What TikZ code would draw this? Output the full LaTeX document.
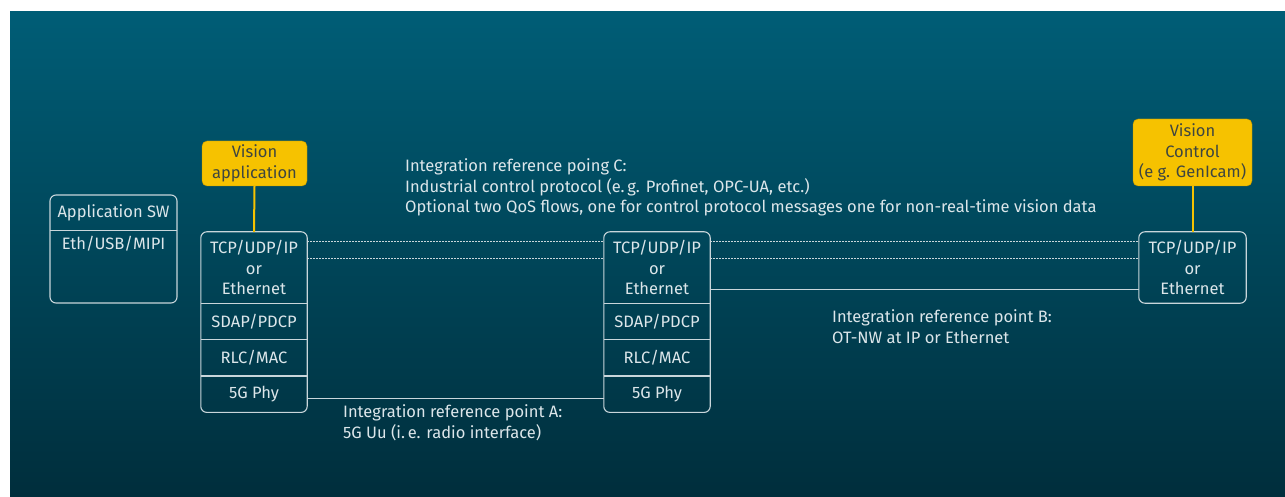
\documentclass[tikz,border=0pt]{standalone}
\usepackage{fontspec}
\setmainfont{Fira Sans}
\usetikzlibrary{positioning, fit, backgrounds}

\definecolor{bgtop}{HTML}{005D76}
\definecolor{bgbot}{HTML}{002E3C}
\definecolor{txt}{HTML}{DCE6EA}
\definecolor{frm}{HTML}{C9D6DB}
\definecolor{ylw}{HTML}{F6C200}
\definecolor{ytxt}{HTML}{3E4640}

\begin{document}
\begin{tikzpicture}[x=1pt, y=-1pt,
  txtfont/.style={font=\fontsize{16.5}{20.5}\selectfont},
  layer/.style={minimum width=106pt, minimum height=36pt, inner sep=0pt,
                text=txt, txtfont, align=center},
  toplayer/.style={layer, minimum height=71pt},
  frame/.style={draw=frm, line width=1.1pt, rounded corners=6pt, inner sep=0pt},
  divider/.style={frm, line width=1.1pt},
  app/.style={draw=ylw!75!black, fill=ylw, rounded corners=5pt, inner sep=0pt,
              text=ytxt, txtfont, align=center},
  link/.style={frm, line width=1.2pt},
  dots/.style={frm, line width=1pt, dash pattern=on 1.5pt off 1.5pt},
  yl/.style={ylw, line width=2pt},
  note/.style={text=txt, txtfont, align=left, anchor=base west, inner sep=0pt}
]
\useasboundingbox (0,0) rectangle (1285,497);
\fill[top color=bgtop, bottom color=bgbot] (10,12) rectangle (1285,497);

%% Application SW box
\node[frame, minimum width=127pt, minimum height=108pt] (appsw) at (113.5,249) {};
\node[layer, minimum width=127pt, minimum height=36pt, below=0pt of appsw.north] (asw) {Application SW};
\node[layer, minimum width=127pt, minimum height=26pt, below=0pt of asw] (eth) {Eth/USB/MIPI};
\draw[divider] (asw.south west) -- (asw.south east);

%% Left stack
\node[toplayer] (lip) at (254,267.5) {TCP/UDP/IP\\or\\Ethernet};
\node[layer, below=0pt of lip] (lsd) {SDAP/PDCP};
\node[layer, below=0pt of lsd] (lrl) {RLC/MAC};
\node[layer, below=0pt of lrl] (lph) {5G Phy};
\node[frame, fit=(lip)(lph)] (lstack) {};
\draw[divider] (lip.south west) -- (lip.south east);
\draw[divider] (lsd.south west) -- (lsd.south east);
\draw[divider] (lrl.south west) -- (lrl.south east);

%% Middle stack
\node[toplayer] (mip) at (657,267.5) {TCP/UDP/IP\\or\\Ethernet};
\node[layer, below=0pt of mip] (msd) {SDAP/PDCP};
\node[layer, below=0pt of msd] (mrl) {RLC/MAC};
\node[layer, below=0pt of mrl] (mph) {5G Phy};
\node[frame, fit=(mip)(mph)] (mstack) {};
\draw[divider] (mip.south west) -- (mip.south east);
\draw[divider] (msd.south west) -- (msd.south east);
\draw[divider] (mrl.south west) -- (mrl.south east);

%% Right stack
\node[toplayer, minimum width=107pt] (rip) at (1192.5,267.5) {TCP/UDP/IP\\or\\Ethernet};
\node[frame, fit=(rip)] (rstack) {};

%% Applications
\node[app, minimum width=105pt, minimum height=45pt] (vapp) at (254.5,163.5) {Vision\\application};
\node[app, minimum width=119pt, minimum height=67pt] (vctl) at (1192.5,152.5) {Vision\\Control\\(e g. GenIcam)};
\draw[yl] (vapp.south) -- (lip.north);
\draw[yl] (vctl.south) -- (rip.north);

%% Connectors
\draw[dots] ([yshift=-10pt]lip.north east) -- ([yshift=-10pt]mip.north west);
\draw[dots] ([yshift=-27pt]lip.north east) -- ([yshift=-27pt]mip.north west);
\draw[dots] ([yshift=-10pt]mip.north east) -- ([yshift=-10pt]rip.north west);
\draw[dots] ([yshift=-27pt]mip.north east) -- ([yshift=-27pt]rip.north west);
\draw[link] ([yshift=14pt]mip.south east) -- ([yshift=14pt]rip.south west);
\draw[link] ([yshift=-4pt]lph.east) -- ([yshift=-4pt]mph.west);

%% Reference points
\node[note] (refc) at (405,213) {Integration reference poing C:\\Industrial control protocol (e.\,g. Profinet, OPC-UA, etc.)\\Optional two QoS flows, one for control protocol messages one for non-real-time vision data};
\node[note] (refb) at (832,343) {Integration reference point B:\\OT-NW at IP or Ethernet};
\node[note] (refa) at (343,438) {Integration reference point A:\\5G Uu (i.\,e. radio interface)};
\end{tikzpicture}
\end{document}
